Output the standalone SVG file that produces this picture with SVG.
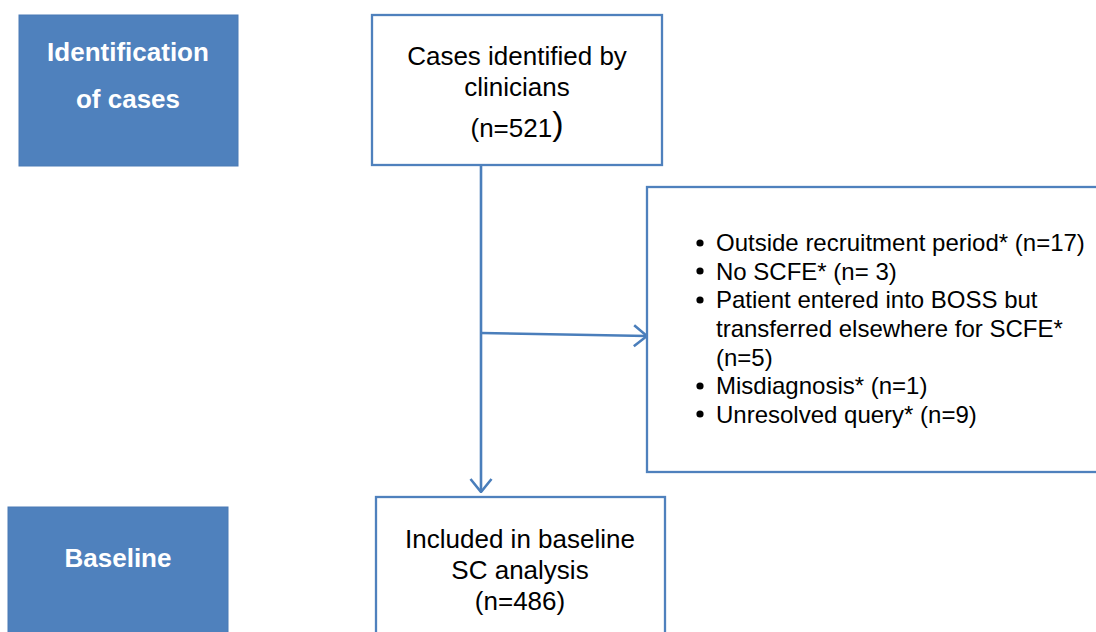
<svg xmlns="http://www.w3.org/2000/svg" width="1096" height="632" viewBox="0 0 1096 632">
<defs>
<style>
.side{fill:#4f81bd;stroke:#4a7ab5;stroke-width:1}
.box{fill:#ffffff;stroke:#4f81bd;stroke-width:2.3}
.lt{font-family:"Liberation Sans",Arial,sans-serif;font-weight:bold;font-size:26px;fill:#ffffff;text-anchor:middle}
.t{font-family:"Liberation Sans",Arial,sans-serif;font-size:26px;fill:#000000;text-anchor:middle}
.li{font-family:"Liberation Sans",Arial,sans-serif;font-size:24px;fill:#000000}
.edge{fill:none;stroke:#4a7ebb;stroke-width:2.6}
</style>
<marker id="arr" viewBox="0 0 15 24" refX="14" refY="12" markerWidth="15" markerHeight="24" markerUnits="userSpaceOnUse" orient="auto">
<path d="M1,1.5 L14,12 L1,22.5" fill="none" stroke="#4a7ebb" stroke-width="2.6"/>
</marker>
</defs>
<g id="connectors">
<path class="edge" d="M481,166 L481,492" marker-end="url(#arr)"/>
<path class="edge" d="M481,333 L647,336" marker-end="url(#arr)"/>
</g>
<g id="label-identification">
<rect class="side" x="19" y="15" width="219" height="151"/>
<text class="lt" x="128" y="61">Identification</text>
<text class="lt" x="128" y="108">of cases</text>
</g>
<g id="node-identified">
<rect class="box" x="372" y="15" width="290" height="150"/>
<text class="t" x="517" y="65">Cases identified by</text>
<text class="t" x="517" y="96">clinicians</text>
<text class="t" x="517" y="137">(n=521<tspan font-size="34px" dy="-2">)</tspan></text>
</g>
<g id="node-excluded">
<rect class="box" x="647" y="187" width="460" height="285"/>
<g fill="#000000">
<circle cx="700" cy="243" r="3.6"/>
<circle cx="700" cy="271" r="3.6"/>
<circle cx="700" cy="300" r="3.6"/>
<circle cx="700" cy="386" r="3.6"/>
<circle cx="700" cy="414" r="3.6"/>
</g>
<text class="li" x="716" y="251">Outside recruitment period* (n=17)</text>
<text class="li" x="716" y="280">No SCFE* (n= 3)</text>
<text class="li" x="716" y="308">Patient entered into BOSS but</text>
<text class="li" x="716" y="337">transferred elsewhere for SCFE*</text>
<text class="li" x="716" y="366">(n=5)</text>
<text class="li" x="716" y="394">Misdiagnosis* (n=1)</text>
<text class="li" x="716" y="423">Unresolved query* (n=9)</text>
</g>
<g id="label-baseline">
<rect class="side" x="8" y="507" width="220" height="140"/>
<text class="lt" x="118" y="567">Baseline</text>
</g>
<g id="node-included">
<rect class="box" x="376" y="497" width="289" height="150"/>
<text class="t" x="520" y="548">Included in baseline</text>
<text class="t" x="520" y="579">SC analysis</text>
<text class="t" x="520" y="610">(n=486)</text>
</g>
</svg>
